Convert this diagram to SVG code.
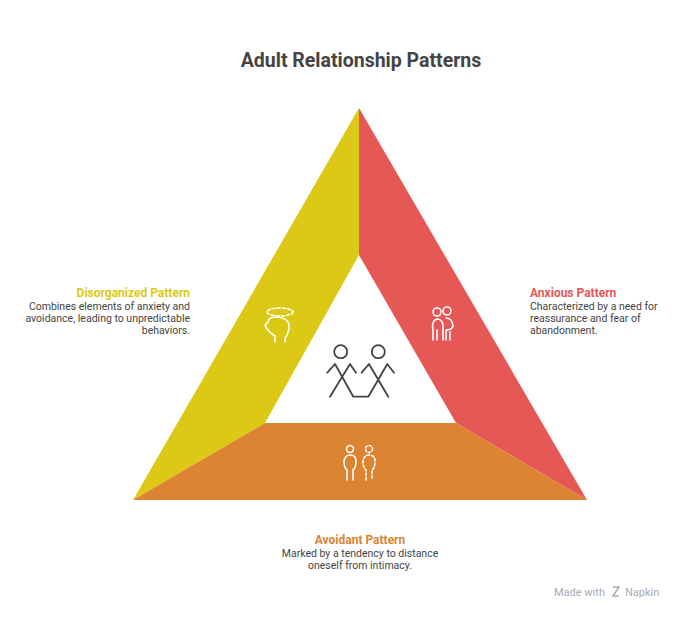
<svg xmlns="http://www.w3.org/2000/svg" width="687" height="620" viewBox="0 0 687 620">
<style>
.t{font-family:Roboto,"Liberation Sans",sans-serif}
.h{font-size:12px;font-weight:bold}
.d{font-size:10.5px;fill:#444}
.w{fill:none;stroke:#fff;stroke-width:1.6;stroke-linecap:round;stroke-linejoin:round}
.g{fill:none;stroke:#444;stroke-width:1.8;stroke-linecap:round;stroke-linejoin:round}
</style>
<rect width="687" height="620" fill="#fff"/>
<text class="t" x="361" y="67" text-anchor="middle" font-size="19.5" font-weight="bold" fill="#444">Adult Relationship Patterns</text>
<g id="disorganized">
<polygon points="359,108 359,255 265,423 133,500" fill="#DCC916"/>
<ellipse class="w" cx="280" cy="312" rx="13" ry="4" stroke-dasharray="3,2"/>
<path class="w" d="M275,342 V336 Q267,331 265,325 L268,322 Q268,317 277,317 Q290,318 289,328 Q288,335 285,338 V342"/>
<text class="t h" x="190" y="297" text-anchor="end" fill="#DCC916">Disorganized Pattern</text>
<text class="t d" x="190" y="310" text-anchor="end">Combines elements of anxiety and</text>
<text class="t d" x="190" y="322" text-anchor="end">avoidance, leading to unpredictable</text>
<text class="t d" x="190" y="334" text-anchor="end">behaviors.</text>
</g>
<g id="anxious">
<polygon points="359,108 587,500 456,423 359,255" fill="#E55855"/>
<circle class="w" cx="437" cy="312" r="4"/>
<circle class="w" cx="447" cy="311" r="4"/>
<path class="w" d="M433,340 V330 Q431,321 437,319 Q442,319 443,325 V340 M437,330 V340 M446,340 V330 Q452,330 453,326 Q452,318 446,318 M450,332 V340"/>
<text class="t h" x="530" y="297" fill="#E55855">Anxious Pattern</text>
<text class="t d" x="530" y="310">Characterized by a need for</text>
<text class="t d" x="530" y="322">reassurance and fear of</text>
<text class="t d" x="530" y="334">abandonment.</text>
</g>
<g id="avoidant">
<polygon points="133,500 265,423 456,423 587,500" fill="#DC8431"/>
<circle class="w" cx="350" cy="449" r="3.5"/>
<path class="w" d="M347,480 V470 Q344,468 344,461 Q345,455 350,455 Q356,455 356,461 Q356,468 353,470 V480"/>
<circle class="w" cx="369" cy="449" r="3.5" stroke-dasharray="2,2"/>
<path class="w" stroke-dasharray="2.5,2" d="M366,480 V470 Q363,468 363,461 Q364,455 369,455 Q375,455 375,461 Q375,468 372,470 V480"/>
<text class="t h" x="360" y="544" text-anchor="middle" fill="#DC8431">Avoidant Pattern</text>
<text class="t d" x="360" y="557" text-anchor="middle">Marked by a tendency to distance</text>
<text class="t d" x="360" y="569" text-anchor="middle">oneself from intimacy.</text>
</g>
<g id="center">
<circle class="g" cx="340.7" cy="351.7" r="6.5"/>
<circle class="g" cx="378.3" cy="351.7" r="6.5"/>
<path class="g" d="M327.3,372.7 L335,364 L353.3,396.7 L368.3,396.7 L387.3,364 L394,372.7 M330,396.7 L350,364 L356,372.7 M361.7,372.7 L369,364 L388.3,396.7"/>
</g>
<g id="connectors"></g>
<text class="t" x="554" y="596" font-size="11" fill="#aaa">Made with</text>
<path d="M613,587 l6,0 -6,9 6,0" fill="none" stroke="#aaa" stroke-width="1.5"/>
<text class="t" x="625" y="596" font-size="11" fill="#aaa">Napkin</text>
</svg>
